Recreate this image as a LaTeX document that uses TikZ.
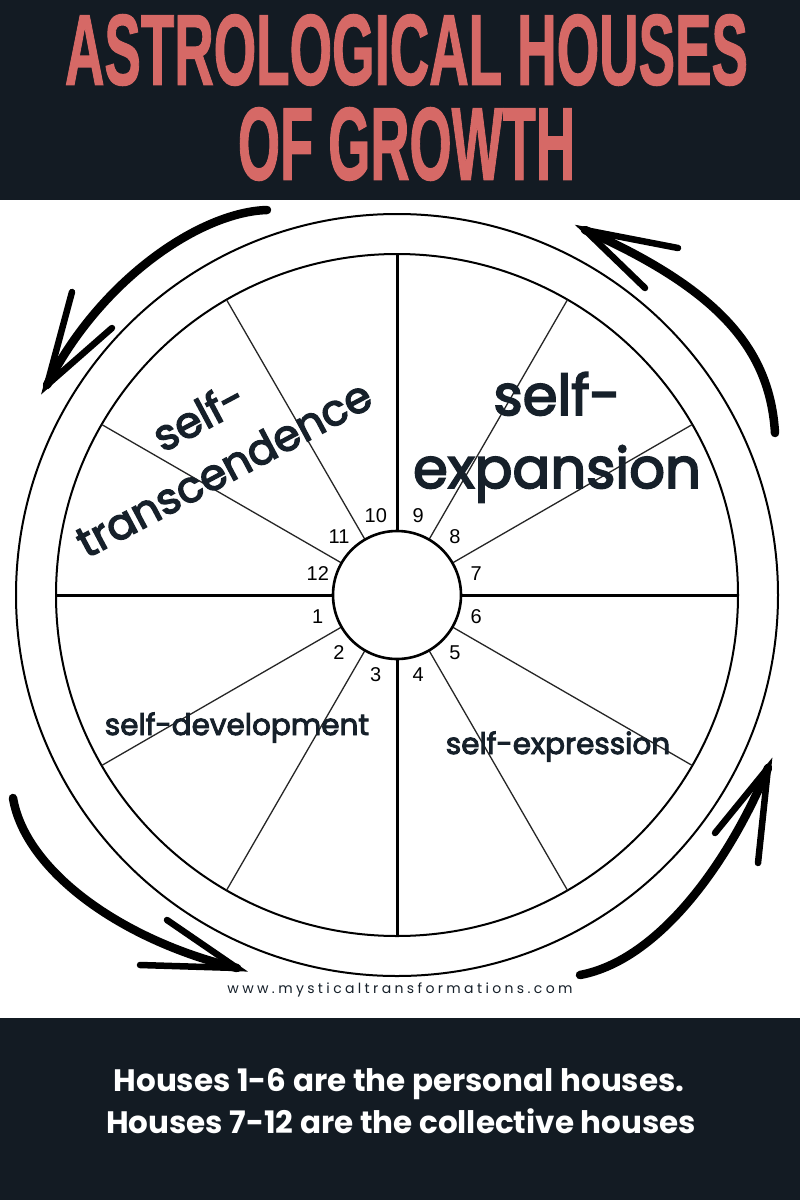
\documentclass[tikz,border=0pt]{standalone}
\usepackage{fontspec}
\usepackage{graphicx}
\setmainfont{Poppins}
\newfontfamily\numfont{Liberation Sans}
\newfontfamily\titlefont{Liberation Sans}[BoldFeatures={FakeBold=1.5}]
\newfontfamily\lblfont{Poppins}[FakeBold=3.2]
\newfontfamily\webfont{Poppins}[LetterSpace=24]
\definecolor{band}{HTML}{131B23}
\definecolor{salmon}{HTML}{D66966}
\definecolor{ink}{HTML}{16202A}
\tikzset{
  titletxt/.style={inner sep=0pt, text=salmon, font=\titlefont\bfseries},
  lbl/.style={inner sep=0pt, text=ink, anchor=base},
  num/.style={inner sep=0pt, font=\numfont\fontsize{20}{20}\selectfont},
  ring/.style={draw=black, line width=2pt},
  spoke/.style={draw=black!85, line width=1.3pt},
  mainspoke/.style={draw=black, line width=3pt},
  handarrow/.style={draw=black, line width=8.5pt, line cap=round},
  barb/.style={draw=black, line width=6.5pt, line cap=round},
  foot/.style={inner sep=0pt, text=white, anchor=base, font=\bfseries\fontsize{31}{31}\selectfont},
}
\begin{document}
\begin{tikzpicture}[x=1pt,y=-1pt]
\fill[white] (0,0) rectangle (800,1200);
\useasboundingbox (0,0) rectangle (800,1200);
\fill[band] (0,0) rectangle (800,200);
\fill[band] (0,1018) rectangle (800,1200);

% title
\node[titletxt] (t1) at (406.5,50) {\resizebox{683pt}{70pt}{ASTROLOGICAL HOUSES}};
\node[titletxt] (t2) at (406.5,144) {\resizebox{337pt}{72pt}{OF GROWTH}};

% wheel
\coordinate (c) at (397,595);
\begin{scope}[shift={(c)}, x=1pt, y=1pt]
  \draw[ring] (0,0) circle[radius=381];
  \draw[ring] (0,0) circle[radius=341];
  \foreach \a in {30,60,120,150,210,240,300,330}
    \draw[spoke] (\a:64) -- (\a:341);
  \foreach \a in {0,90,180,270}
    \draw[mainspoke] (\a:64) -- (\a:341);
  \draw[draw=black, line width=2.6pt, fill=white] (0,0) circle[radius=64];
  \foreach \k in {1,...,12}
    \node[num] (h\k) at ({195+30*(\k-1)}:82) {\k};
\end{scope}

% labels
\node[lbl, font=\lblfont\fontsize{56}{56}\selectfont] (e1) at (557,415) {self-};
\node[lbl, font=\lblfont\fontsize{56}{56}\selectfont] (e2) at (557,488) {expansion};
\node[lbl, rotate=28, font=\lblfont\fontsize{43}{43}\selectfont] (tr1) at (206,430) {self-};
\node[lbl, rotate=28, font=\lblfont\fontsize{43}{43}\selectfont] (tr2) at (231,482) {transcendence};
\node[lbl, font=\lblfont\fontsize{29.5}{29.5}\selectfont] (dev) at (237,735) {self-development};
\node[lbl, font=\lblfont\fontsize{29.5}{29.5}\selectfont] (expr) at (558,754) {self-expression};

% website
\node[inner sep=0pt, anchor=base, text=ink, font=\webfont\fontsize{14}{14}\selectfont] (web) at (400,993) {www.mysticaltransformations.com};

% footer
\node[foot] (f1) at (399,1091) {Houses 1-6 are the personal houses.};
\node[foot] (f2) at (401,1133) {Houses 7-12 are the collective houses};

% hand-drawn arrows
\coordinate (a1s) at (267,210); \coordinate (a1t) at (47,385);
\coordinate (a1b1) at (72,292); \coordinate (a1b2) at (112,328);
\draw[handarrow] (a1s) .. controls (200,212) and (100,280) .. (a1t);
\draw[barb] (a1b1) -- (a1t) -- (a1b2);

\coordinate (a2s) at (775,433); \coordinate (a2t) at (585,230);
\coordinate (a2b1) at (678,248); \coordinate (a2b2) at (645,288);
\draw[handarrow] (a2s) .. controls (770,350) and (720,290) .. (a2t);
\draw[barb] (a2b1) -- (a2t) -- (a2b2);

\coordinate (a3s) at (13,798); \coordinate (a3t) at (237,968);
\coordinate (a3b1) at (140,965); \coordinate (a3b2) at (167,920);
\draw[handarrow] (a3s) .. controls (25,870) and (120,940) .. (a3t);
\draw[barb] (a3b1) -- (a3t) -- (a3b2);

\coordinate (a4s) at (580,975); \coordinate (a4t) at (768,768);
\coordinate (a4b1) at (758,863); \coordinate (a4b2) at (715,833);
\draw[handarrow] (a4s) .. controls (660,960) and (730,860) .. (a4t);
\draw[barb] (a4b1) -- (a4t) -- (a4b2);
\end{tikzpicture}
\end{document}
